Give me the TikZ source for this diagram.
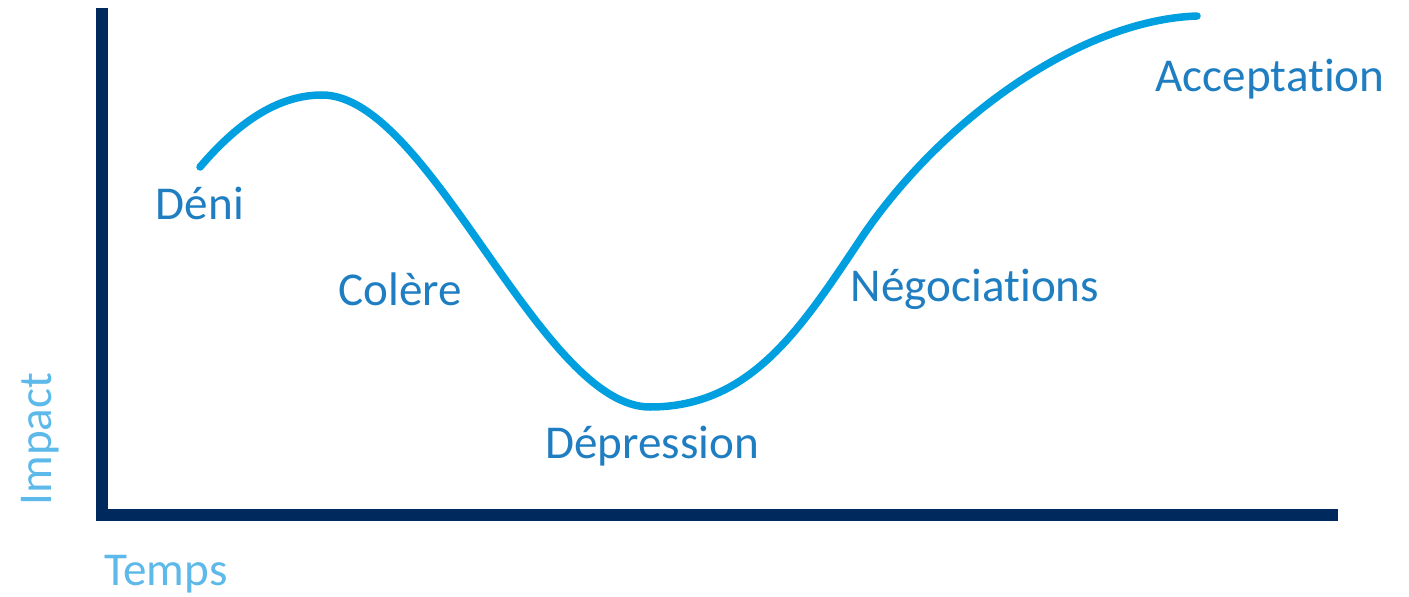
\documentclass[tikz,border=0pt]{standalone}
\usepackage{fontspec}
\setmainfont[RawFeature={-liga;-clig;-calt;-dlig}]{Carlito}
\usetikzlibrary{positioning, calc}
\definecolor{axisblue}{HTML}{002A5E}
\definecolor{curveblue}{HTML}{009FDF}
\definecolor{stageblue}{HTML}{1F7EC1}
\definecolor{lightblue}{HTML}{5DB9E9}

\begin{document}
\begin{tikzpicture}[
  x=0.01cm, y=-0.01cm,
  font=\fontsize{13.4}{15}\selectfont,
  axe/.style={draw=axisblue, line width=0.12cm},
  courbe/.style={draw=curveblue, line width=0.075cm, line cap=round},
  etape/.style={text=stageblue, inner sep=0pt},
  titre/.style={text=lightblue, inner sep=0pt},
]
  \useasboundingbox (0,0) rectangle (1409,597);
  % axes
  \coordinate (haut) at (102,8);
  \coordinate (origine) at (102,515);
  \coordinate (droite) at (1338,515);
  \draw[axe] (haut) -- ($(origine)+(0,6)$);
  \draw[axe] ($(origine)+(-6,0)$) -- (droite);
  % courbe du deuil
  \draw[courbe] (200,167) .. controls (240,120) and (280,95) .. (322,95)
    .. controls (430,95) and (540,407) .. (650,407)
    .. controls (750,407) and (800,330) .. (860,240)
    .. controls (940,120) and (1080,20) .. (1197,16);
  % etapes
  \node[etape] (deni) at (200,203) {Déni};
  \node[etape] (colere) at (400,289) {Colère};
  \node[etape] (depression) at (652,446) {Dépression};
  \node[etape] (nego) at (975,289) {Négociations};
  \node[etape] (accept) at (1270,79) {Acceptation};
  % titres des axes
  \node[titre] (temps) at (166,574) {Temps};
  \node[titre, rotate=90] (impact) at (40,439) {Impact};
\end{tikzpicture}
\end{document}
